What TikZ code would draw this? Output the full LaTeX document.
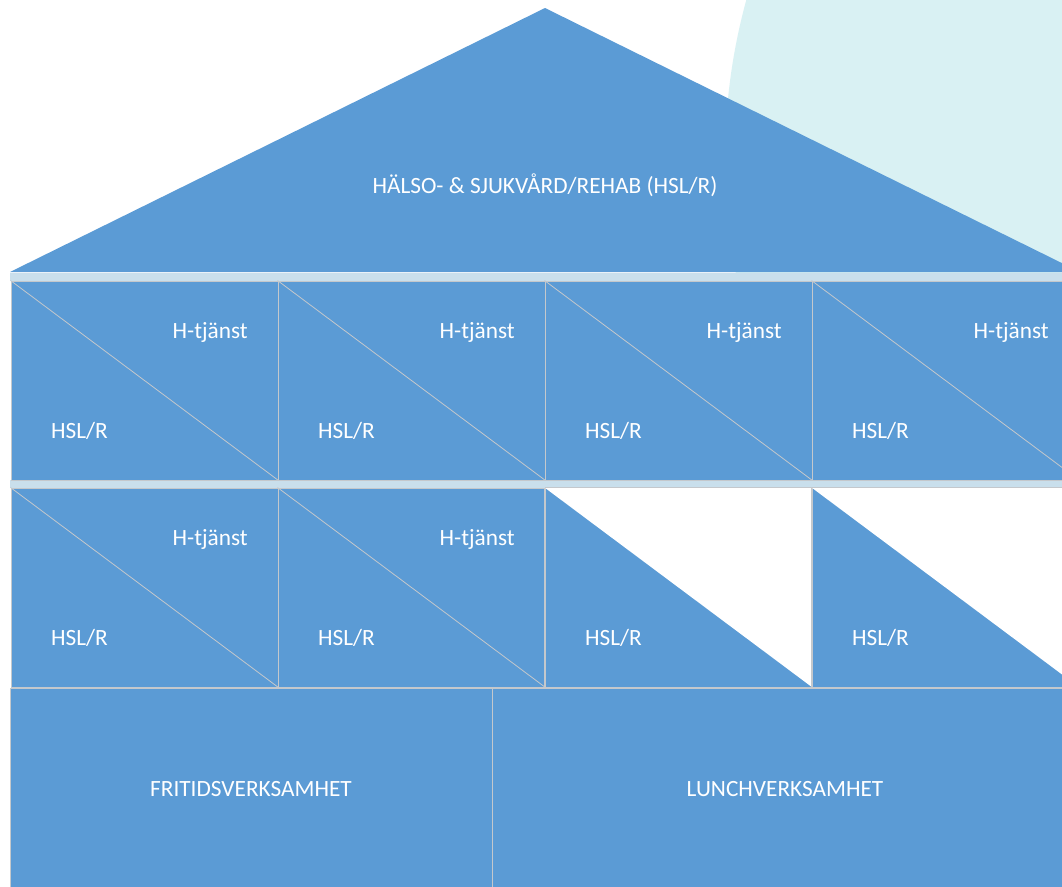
\documentclass[tikz,border=0pt]{standalone}
\usepackage{fontspec}
\setmainfont{Carlito}
\definecolor{houseblue}{HTML}{5B9BD5}
\definecolor{skycyan}{HTML}{D9F1F3}
\definecolor{bandblue}{HTML}{C9DFEC}
\definecolor{edgegray}{HTML}{C4C8CC}
\tikzset{
  cell/.style={draw=edgegray, line width=1pt, fill=houseblue, inner sep=0pt, rectangle},
  diag/.style={draw=edgegray, line width=0.8pt},
  lbl/.style={text=white, font=\fontsize{23.3}{26}\selectfont, inner sep=0pt},
  band/.style={fill=bandblue, draw=none},
}
\begin{document}
\begin{tikzpicture}[x=1pt,y=-1pt]
\useasboundingbox (0,0) rectangle (1062,886);
\clip (0,0) rectangle (1062,886);
\fill[white] (0,0) rectangle (1062,886);
% background circle
\fill[skycyan] (1325,159) circle (600);
% roof
\fill[houseblue] (10,272) -- (545,8) -- (1080,272) -- cycle;
\node[lbl, anchor=base] (title) at (545,193) {HÄLSO- \& SJUKVÅRD/REHAB (HSL/R)};
% bands
\fill[band] (10,273) rectangle (1080,281);
\fill[band] (10,480) rectangle (1080,488);
% row 1
\foreach \i in {0,1,2,3} {
  \pgfmathsetmacro{\cx}{11+267*\i+133.5}
  \pgfmathsetmacro{\L}{11+267*\i}
  \node[cell, minimum width=267pt, minimum height=199pt] (a\i) at (\cx,380.5) {};
  \draw[diag] (a\i.north west) -- (a\i.south east);
  \node[lbl, anchor=base east] (ah\i) at (\L+237,338) {H-tjänst};
  \node[lbl, anchor=base west] (ar\i) at (\L+40,438) {HSL/R};
}
% row 2
\foreach \i in {0,1} {
  \pgfmathsetmacro{\cx}{11+267*\i+133.5}
  \pgfmathsetmacro{\L}{11+267*\i}
  \node[cell, minimum width=267pt, minimum height=199pt] (b\i) at (\cx,587.5) {};
  \draw[diag] (b\i.north west) -- (b\i.south east);
  \node[lbl, anchor=base east] (bh\i) at (\L+237,545) {H-tjänst};
  \node[lbl, anchor=base west] (br\i) at (\L+40,645) {HSL/R};
}
\foreach \i in {2,3} {
  \pgfmathsetmacro{\cx}{11+267*\i+133.5}
  \pgfmathsetmacro{\L}{11+267*\i}
  \node[cell, minimum width=267pt, minimum height=199pt] (b\i) at (\cx,587.5) {};
  \fill[white] (b\i.north west) -- (b\i.north east) -- (b\i.south east) -- cycle;
  \draw[edgegray, line width=1pt] (b\i.north west) -- (b\i.south west) -- (b\i.south east);
  \draw[edgegray, line width=1pt] (b\i.north west) -- (b\i.north east);
  \node[lbl, anchor=base west] (br\i) at (\L+40,645) {HSL/R};
}
% bottom row
\node[cell, minimum width=482pt, minimum height=212pt] (fri) at (251,794) {};
\node[cell, minimum width=588pt, minimum height=212pt] (lunch) at (786,794) {};
\node[lbl, anchor=base] (fritxt) at (251,796) {FRITIDSVERKSAMHET};
\node[lbl, anchor=base] (lunchtxt) at (785,796) {LUNCHVERKSAMHET};
\end{tikzpicture}
\end{document}
